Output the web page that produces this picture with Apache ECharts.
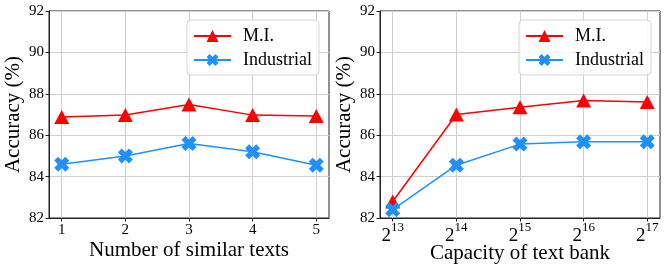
<!DOCTYPE html>
<html>
<head>
<meta charset="utf-8">
<script src="https://cdn.jsdelivr.net/npm/echarts@6/dist/echarts.min.js"></script>
<style>
html,body{margin:0;padding:0;background:#fff;}
#c{width:666px;height:272px;}
</style>
</head>
<body>
<div id="c"></div>
<script>
// Data
const seriesNames = ['M.I.', 'Industrial'];
const leftX = [1, 2, 3, 4, 5];
const leftMI = [86.88, 86.98, 87.48, 86.97, 86.93];
const leftInd = [84.6, 85.0, 85.6, 85.2, 84.55];
const rightExp = [13, 14, 15, 16, 17];
const rightMI = [82.8, 87.0, 87.35, 87.68, 87.6];
const rightInd = [82.4, 84.55, 85.57, 85.68, 85.68];
const yTicks = [82, 84, 86, 88, 90, 92];
const leftXName = 'Number of similar texts';
const rightXName = 'Capacity of text bank';
const yName = 'Accuracy (%)';

const FONT = '"Liberation Serif", "DejaVu Serif", serif';
const RED = '#ff0000';
const BLUE = '#1e90ff';
const XPATH = 'path://M2.6,0 L5,2.4 L7.4,0 L10,2.6 L7.6,5 L10,7.4 L7.4,10 L5,7.6 L2.6,10 L0,7.4 L2.4,5 L0,2.6 Z';

const chart = echarts.init(document.getElementById('c'), null, {renderer: 'canvas'});

function xAxisCfg(gridIndex, values, name, isPow) {
  return {
    type: 'value', gridIndex,
    min: values[0] - 0.2, max: values[values.length - 1] + 0.2,
    name, nameLocation: 'middle', nameGap: isPow ? 25 : 22, nameMoveOverlap: false,
    nameTextStyle: {fontFamily: FONT, fontSize: 21, color: '#000'},
    axisLine: {show: true, onZero: false, lineStyle: {color: '#222', width: 1}},
    axisTick: {show: true, inside: false, length: 3.5, customValues: values, lineStyle: {color: '#222'}},
    axisLabel: isPow ? {
      customValues: values, margin: 3,
      formatter: v => '{b|2}{s|' + v + '}',
      rich: {
        b: {fontFamily: FONT, fontSize: 19, color: '#000', verticalAlign: 'bottom', padding: [6, 0, 0, 0]},
        s: {fontFamily: FONT, fontSize: 13, color: '#000', verticalAlign: 'top', padding: [0, 0, 12, 0]}
      }
    } : {
      customValues: values, margin: 5,
      fontFamily: FONT, fontSize: 15, color: '#000'
    },
    splitLine: {show: true, lineStyle: {color: '#cfcfcf', width: 1}}
  };
}

function yAxisCfg(gridIndex) {
  return {
    type: 'value', gridIndex,
    min: yTicks[0], max: yTicks[yTicks.length - 1], interval: 2,
    name: yName, nameLocation: 'middle', nameGap: 25,
    nameTextStyle: {fontFamily: FONT, fontSize: 21, color: '#000'},
    axisLine: {show: true, lineStyle: {color: '#222', width: 1}},
    axisTick: {show: true, inside: false, length: 3.5, lineStyle: {color: '#222'}},
    axisLabel: {margin: 5, fontFamily: FONT, fontSize: 15, color: '#000'},
    splitLine: {show: true, lineStyle: {color: '#cfcfcf', width: 1}}
  };
}

function legendCfg(left) {
  return {
    left, top: 20, orient: 'vertical',
    data: seriesNames,
    itemWidth: 37, itemHeight: 15, itemGap: 6,
    padding: [7, 7, 6, 6],
    backgroundColor: 'rgba(255,255,255,0.85)',
    borderColor: '#d6d6d6', borderWidth: 1, borderRadius: 4,
    textStyle: {fontFamily: FONT, fontSize: 18, color: '#000', padding: [0, 0, 0, 7]}
  };
}

function pairs(xs, ys) { return xs.map((x, i) => [x, ys[i]]); }

function miSeries(xi, xs, ys) {
  return {
    name: seriesNames[0], type: 'line', xAxisIndex: xi, yAxisIndex: xi,
    data: pairs(xs, ys), symbol: 'triangle', symbolSize: [15, 14],
    lineStyle: {color: RED, width: 1.5}, itemStyle: {color: RED},
    emphasis: {disabled: true}, z: 2
  };
}
function indSeries(xi, xs, ys) {
  return {
    name: seriesNames[1], type: 'line', xAxisIndex: xi, yAxisIndex: xi,
    data: pairs(xs, ys), symbol: XPATH, symbolSize: 15,
    lineStyle: {color: BLUE, width: 1.5}, itemStyle: {color: BLUE},
    emphasis: {disabled: true}, z: 3
  };
}

chart.setOption({
  animation: false,
  backgroundColor: '#fff',
  grid: [
    {left: 49, top: 11, width: 280, height: 207, show: true, borderColor: '#222', borderWidth: 1, containLabel: false, outerBoundsMode: 'none'},
    {left: 380, top: 11, width: 280, height: 207, show: true, borderColor: '#222', borderWidth: 1, containLabel: false, outerBoundsMode: 'none'}
  ],
  legend: [legendCfg(187), legendCfg(519)],
  xAxis: [xAxisCfg(0, leftX, leftXName, false), xAxisCfg(1, rightExp, rightXName, true)],
  yAxis: [yAxisCfg(0), yAxisCfg(1)],
  series: [
    miSeries(0, leftX, leftMI), indSeries(0, leftX, leftInd),
    miSeries(1, rightExp, rightMI), indSeries(1, rightExp, rightInd)
  ]
});
</script>
</body>
</html>
